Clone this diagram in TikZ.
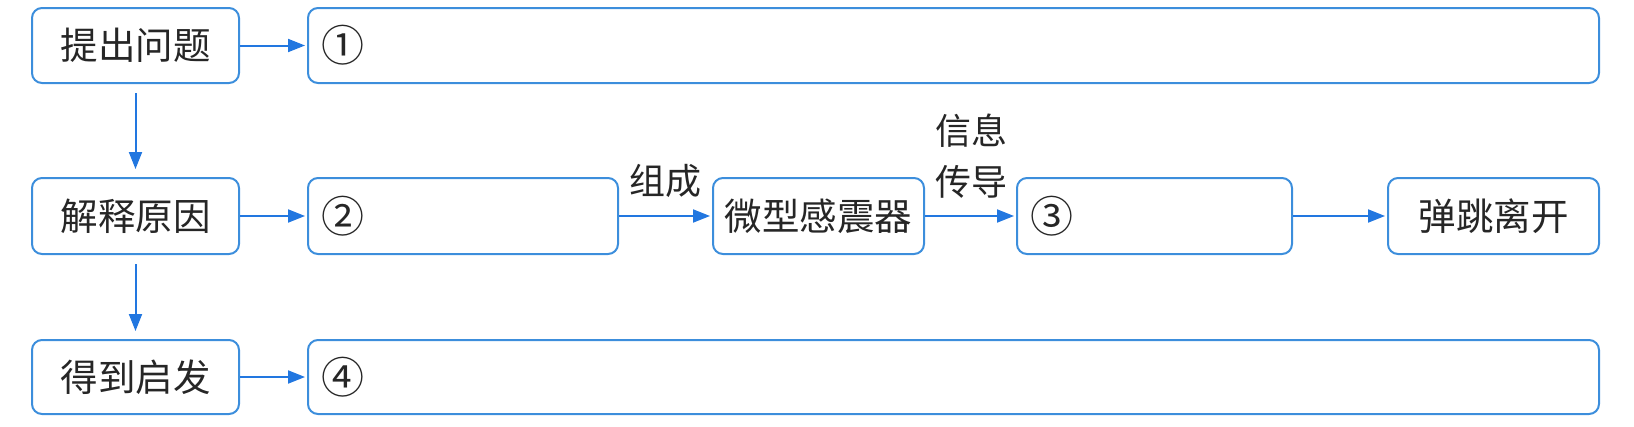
\documentclass[tikz,border=0pt]{standalone}
\usepackage{fontspec}
\setmainfont{Noto Sans CJK SC}
\usetikzlibrary{arrows.meta}
\definecolor{boxblue}{HTML}{3C8EDC}
\definecolor{arrblue}{HTML}{2277E0}
\tikzset{
  box/.style={draw=boxblue, line width=2pt, rounded corners=10pt, inner sep=0pt, font=\fontsize{37.5}{40}\selectfont, text=black!85},
  abox/.style={box, align=left, inner xsep=13pt, font=\fontsize{43}{44}\selectfont},
  arr/.style={draw=arrblue, line width=2pt, -{Triangle[length=17pt,width=13pt]}, shorten >=2pt},
  lab/.style={font=\fontsize{36}{51}\selectfont, text=black!85, inner sep=0pt, align=center}
}
\begin{document}
\begin{tikzpicture}[x=1pt,y=1pt]
\useasboundingbox (0,0) rectangle (1634,-426);
% row 1
\node[box, minimum width=207pt, minimum height=75pt] (q1) at (135.5,-45.5) {提出问题};
\node[abox, text width=1265pt, minimum height=75pt] (a1) at (953.5,-45.5) {①};
% row 2
\node[box, minimum width=207pt, minimum height=76pt] (q2) at (135.5,-216) {解释原因};
\node[abox, text width=284pt, minimum height=76pt] (a2) at (463,-216) {②};
\node[box, minimum width=211pt, minimum height=76pt] (mic) at (818.5,-216) {微型感震器};
\node[abox, text width=249pt, minimum height=76pt] (a3) at (1154.5,-216) {③};
\node[box, minimum width=211pt, minimum height=76pt] (jump) at (1493.5,-216) {弹跳离开};
% row 3
\node[box, minimum width=207pt, minimum height=74pt] (q3) at (135.5,-377) {得到启发};
\node[abox, text width=1265pt, minimum height=74pt] (a4) at (953.5,-377) {④};
% labels
\node[lab] (l1) at (665,-181) {组成};
\node[lab] (l2) at (971,-156) {信息\\传导};
% arrows
\draw[arr] (q1) -- (a1);
\draw[arr] (q2) -- (a2);
\draw[arr] (a2) -- (mic);
\draw[arr] (mic) -- (a3);
\draw[arr] (a3) -- (jump);
\draw[arr] (q3) -- (a4);
\draw[arr, shorten <=9pt, shorten >=8pt] (q1.south) -- (q2.north);
\draw[arr, shorten <=9pt, shorten >=8pt] (q2.south) -- (q3.north);
\end{tikzpicture}
\end{document}
